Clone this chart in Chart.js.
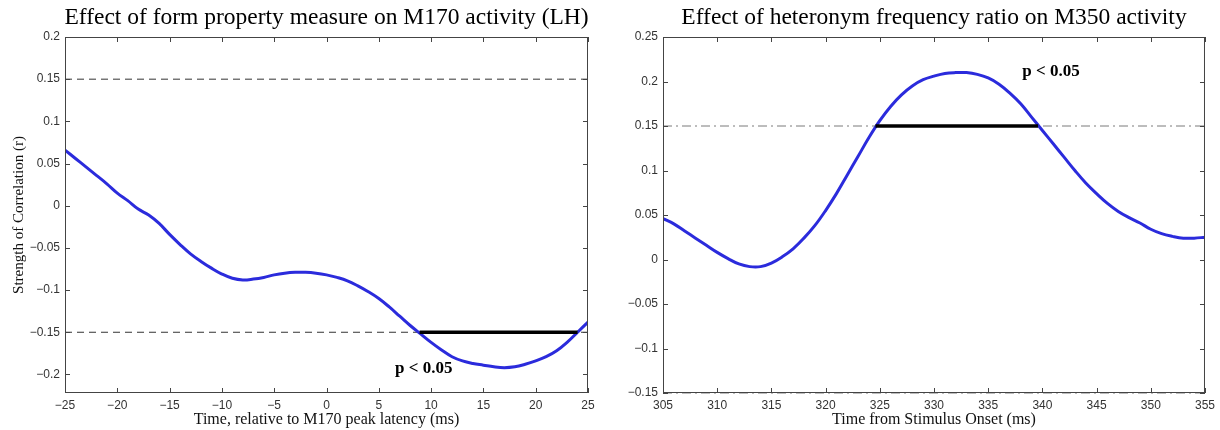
<!DOCTYPE html>
<html>
<head>
<meta charset="utf-8">
<script src="https://cdn.jsdelivr.net/npm/chart.js@4.4.1/dist/chart.umd.min.js"></script>
<style>
    html, body { margin: 0; padding: 0; background: #fff; }
    .panel { position: absolute; top: 0; height: 430px; }
    #leftWrap { left: 0; width: 600px; }
    #rightWrap { left: 600px; width: 620px; }
</style>
</head>
<body>
<div class="panel" id="leftWrap"><canvas id="leftChart"></canvas></div>
<div class="panel" id="rightWrap"><canvas id="rightChart"></canvas></div>
<script>
// ================= DATA =================

// left panel: M170 (LH)
const leftTime = [-25, -24, -23, -22, -21, -20, -19, -18, -17, -16, -15, -14, -13, -12, -11, -10, -9, -8, -7, -6,
    -5, -4, -3, -2, -1, 0, 1, 2, 3, 4, 5, 6, 7, 8, 9, 10, 11, 12, 13, 14, 15, 16, 17, 18, 19, 20, 21, 22, 23, 24, 25];
const leftCorr = [0.066, 0.056, 0.046, 0.036, 0.026, 0.015, 0.006, -0.004, -0.011, -0.021, -0.034, -0.046, -0.057,
    -0.066, -0.074, -0.081, -0.086, -0.088, -0.087, -0.085, -0.082, -0.080, -0.079, -0.079, -0.080, -0.082, -0.085,
    -0.089, -0.095, -0.102, -0.110, -0.120, -0.131, -0.142, -0.152, -0.162, -0.171, -0.179, -0.184, -0.187, -0.189,
    -0.191, -0.192, -0.191, -0.188, -0.184, -0.179, -0.172, -0.162, -0.150, -0.138];
const leftSigX = [8.9, 24.0];
const leftSigY = [-0.15, -0.15];
const leftThresholds = [0.15, -0.15];
const leftXTicks = [-25, -20, -15, -10, -5, 0, 5, 10, 15, 20, 25];
const leftXTickLabels = ['\u221225', '\u221220', '\u221215', '\u221210', '\u22125', '0', '5', '10', '15', '20', '25'];
const leftYTicks = [-0.2, -0.15, -0.1, -0.05, 0, 0.05, 0.1, 0.15, 0.2];
const leftYTickLabels = ['\u22120.2', '\u22120.15', '\u22120.1', '\u22120.05', '0', '0.05', '0.1', '0.15', '0.2'];
const leftNote = { x: 9.3, y: -0.193, text: 'p < 0.05' };

// right panel: M350
const rightTime = [305, 306, 307, 308, 309, 310, 311, 312, 313, 314, 315, 316, 317, 318, 319, 320, 321, 322, 323,
    324, 325, 326, 327, 328, 329, 330, 331, 332, 333, 334, 335, 336, 337, 338, 339, 340, 341, 342, 343, 344, 345,
    346, 347, 348, 349, 350, 351, 352, 353, 354, 355];
const rightCorr = [0.046, 0.040, 0.032, 0.024, 0.016, 0.008, 0.001, -0.005, -0.008, -0.008, -0.004, 0.003, 0.012,
    0.024, 0.038, 0.055, 0.074, 0.095, 0.116, 0.137, 0.156, 0.172, 0.185, 0.195, 0.202, 0.206, 0.209, 0.210, 0.210,
    0.208, 0.204, 0.197, 0.187, 0.175, 0.160, 0.145, 0.130, 0.115, 0.100, 0.086, 0.074, 0.063, 0.054, 0.047, 0.041,
    0.034, 0.029, 0.026, 0.024, 0.024, 0.025];
const rightSigX = [324.6, 339.6];
const rightSigY = [0.15, 0.15];
const rightThresholds = [0.15, -0.15];
const rightXTicks = [305, 310, 315, 320, 325, 330, 335, 340, 345, 350, 355];
const rightXTickLabels = ['305', '310', '315', '320', '325', '330', '335', '340', '345', '350', '355'];
const rightYTicks = [-0.15, -0.1, -0.05, 0, 0.05, 0.1, 0.15, 0.2, 0.25];
const rightYTickLabels = ['\u22120.15', '\u22120.1', '\u22120.05', '0', '0.05', '0.1', '0.15', '0.2', '0.25'];
const rightNote = { x: 340.8, y: 0.211, text: 'p < 0.05' };

// ================= PLUGIN: matlab style frame, title, note =================

const matlabFrame = {
    id: 'matlabFrame',
    afterDatasetsDraw(chart, args, opts) {
        const { ctx, chartArea: a } = chart;
        const xs = chart.scales.x, ys = chart.scales.y;
        ctx.save();
        ctx.strokeStyle = '#444';
        ctx.lineWidth = 1;
        ctx.strokeRect(a.left + 0.5, a.top + 0.5, a.width - 1, a.height - 1);
        ctx.beginPath();
        xs.ticks.forEach(t => {
            const px = Math.round(xs.getPixelForValue(t.value)) + 0.5;
            ctx.moveTo(px, a.bottom); ctx.lineTo(px, a.bottom - 5);
            ctx.moveTo(px, a.top); ctx.lineTo(px, a.top + 5);
        });
        ys.ticks.forEach(t => {
            const py = Math.round(ys.getPixelForValue(t.value)) + 0.5;
            ctx.moveTo(a.left, py); ctx.lineTo(a.left + 5, py);
            ctx.moveTo(a.right, py); ctx.lineTo(a.right - 5, py);
        });
        ctx.stroke();

        // significance note
        ctx.fillStyle = '#000';
        ctx.font = 'bold 17px "Liberation Serif"';
        ctx.textAlign = 'center';
        ctx.textBaseline = 'middle';
        ctx.fillText(opts.note.text, xs.getPixelForValue(opts.note.x), ys.getPixelForValue(opts.note.y));

        // panel title, centred over the axes box
        ctx.font = '23.5px "Liberation Serif"';
        ctx.fillText(opts.title, (a.left + a.right) / 2, 18);
        ctx.restore();
    }
};

function makeChart(id, cfg) {
    const curve = cfg.time.map((t, i) => ({ x: t, y: cfg.corr[i] }));
    const sig = cfg.sigX.map((t, i) => ({ x: t, y: cfg.sigY[i] }));
    const x0 = cfg.xTicks[0], x1 = cfg.xTicks[cfg.xTicks.length - 1];

    const thresholdSets = cfg.thresholds.map(v => ({
        data: [{ x: x0, y: v }, { x: x1, y: v }],
        borderColor: cfg.thresholdColor,
        borderWidth: 1,
        borderDash: cfg.thresholdDash,
        pointRadius: 0,
        clip: false,
        order: 3
    }));

    return new Chart(document.getElementById(id), {
        type: 'line',
        data: {
            datasets: [
                {
                    data: sig,
                    borderColor: '#000',
                    borderWidth: 3.5,
                    pointRadius: 0,
                    order: 0
                },
                {
                    data: curve,
                    borderColor: '#2b2bdc',
                    borderWidth: 3,
                    pointRadius: 0,
                    tension: 0.4,
                    order: 1
                },
                ...thresholdSets
            ]
        },
        options: {
            responsive: true,
            maintainAspectRatio: false,
            animation: false,
            layout: { padding: { top: 37, right: cfg.padRight, left: 0, bottom: 0 } },
            plugins: {
                legend: { display: false },
                tooltip: { enabled: false },
                matlabFrame: { title: cfg.title, note: cfg.note }
            },
            scales: {
                x: {
                    type: 'linear',
                    min: x0,
                    max: x1,
                    grid: { display: false, drawTicks: false },
                    border: { display: false },
                    afterBuildTicks: s => { s.ticks = cfg.xTicks.map(v => ({ value: v })); },
                    afterFit: s => { s.height = 37; },
                    ticks: {
                        padding: 5,
                        color: '#333',
                        font: { family: '"Liberation Sans"', size: 12 },
                        maxRotation: 0,
                        autoSkip: false,
                        callback: (v, i) => cfg.xTickLabels[i]
                    },
                    title: {
                        display: true,
                        text: cfg.xTitle,
                        color: '#111',
                        font: { family: '"Liberation Serif"', size: 16 },
                        padding: { top: 0, bottom: 1 }
                    }
                },
                y: {
                    type: 'linear',
                    min: cfg.yMin,
                    max: cfg.yMax,
                    grid: { display: false, drawTicks: false },
                    border: { display: false },
                    afterBuildTicks: s => { s.ticks = cfg.yTicks.map(v => ({ value: v })); },
                    afterFit: s => { s.width = cfg.yWidth; },
                    ticks: {
                        padding: 5,
                        color: '#333',
                        font: { family: '"Liberation Sans"', size: 12 },
                        autoSkip: false,
                        callback: (v, i) => cfg.yTickLabels[i]
                    },
                    title: {
                        display: !!cfg.yTitle,
                        text: cfg.yTitle || '',
                        color: '#111',
                        font: { family: '"Liberation Serif"', size: 15 },
                        padding: { top: 10, bottom: 0 }
                    }
                }
            }
        },
        plugins: [matlabFrame]
    });
}

document.addEventListener('DOMContentLoaded', () => {
    makeChart('leftChart', {
        time: leftTime, corr: leftCorr, sigX: leftSigX, sigY: leftSigY,
        thresholds: leftThresholds, thresholdColor: '#333', thresholdDash: [7, 5],
        xTicks: leftXTicks, xTickLabels: leftXTickLabels,
        yTicks: leftYTicks, yTickLabels: leftYTickLabels,
        yMin: -0.222, yMax: 0.2, yWidth: 65, padRight: 12,
        title: 'Effect of form property measure on M170 activity (LH)',
        xTitle: 'Time, relative to M170 peak latency (ms)',
        yTitle: 'Strength of Correlation (r)',
        note: leftNote
    });

    makeChart('rightChart', {
        time: rightTime, corr: rightCorr, sigX: rightSigX, sigY: rightSigY,
        thresholds: rightThresholds, thresholdColor: '#7a7a7a', thresholdDash: [9, 4, 2, 4],
        xTicks: rightXTicks, xTickLabels: rightXTickLabels,
        yTicks: rightYTicks, yTickLabels: rightYTickLabels,
        yMin: -0.15, yMax: 0.25, yWidth: 63, padRight: 13,
        title: 'Effect of heteronym frequency ratio on M350 activity',
        xTitle: 'Time from Stimulus Onset (ms)',
        yTitle: null,
        note: rightNote
    });
});
</script>
</body>
</html>
